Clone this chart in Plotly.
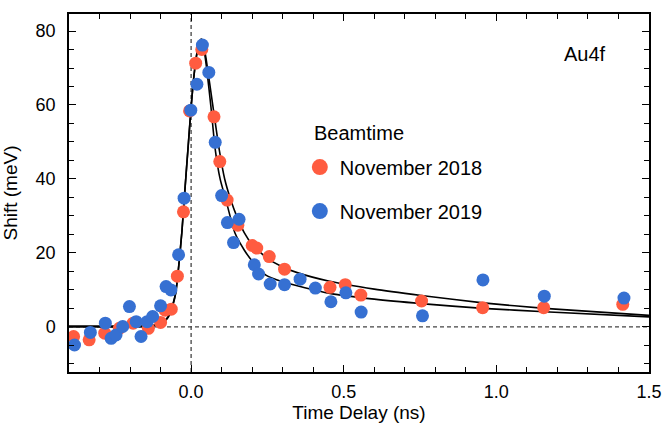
import plotly.graph_objects as go

# ---- data ----
nov2018_x = [-0.385, -0.334, -0.283, -0.235, -0.190, -0.140, -0.100, -0.085, -0.065,
             -0.045, -0.025, -0.005, 0.015, 0.035, 0.075, 0.094, 0.118, 0.153,
             0.200, 0.215, 0.256, 0.306, 0.455, 0.505, 0.556, 0.755, 0.955, 1.155, 1.414]
nov2018_y = [-2.6, -3.5, -1.7, -0.4, 1.0, -0.4, 1.2, 4.5, 4.8,
             13.7, 31.1, 58.4, 71.3, 75.0, 56.8, 44.7, 34.3, 27.5,
             22.0, 21.3, 19.0, 15.6, 10.7, 11.4, 8.6, 7.0, 5.2, 5.2, 6.1]

nov2019_x = [-0.382, -0.330, -0.281, -0.262, -0.246, -0.224, -0.202, -0.180, -0.164,
             -0.144, -0.126, -0.100, -0.082, -0.066, -0.041, -0.023, -0.001, 0.019,
             0.037, 0.058, 0.079, 0.100, 0.119, 0.139, 0.157, 0.207, 0.221, 0.259,
             0.306, 0.357, 0.407, 0.458, 0.507, 0.557, 0.758, 0.956, 1.157, 1.418]
nov2019_y = [-4.9, -1.5, 1.0, -3.1, -2.2, 0.1, 5.5, 1.4, -2.6,
             1.4, 2.8, 5.7, 10.9, 10.0, 19.5, 34.8, 58.6, 65.6,
             76.2, 68.8, 49.9, 35.5, 28.2, 22.8, 29.1, 16.8, 14.3, 11.6,
             11.4, 12.9, 10.5, 6.8, 9.2, 4.0, 3.0, 12.7, 8.3, 7.8]

# fit curves
fit_slow_x = [-0.40, -0.30, -0.20, -0.14, -0.12, -0.10, -0.085, -0.07, -0.06, -0.05, -0.04,
              -0.03, -0.02, -0.01, 0.0, 0.01, 0.02, 0.03, 0.035, 0.04, 0.05, 0.07, 0.092,
              0.11, 0.13, 0.15, 0.174, 0.20, 0.25, 0.30, 0.35, 0.45, 0.60, 0.754, 0.956,
              1.158, 1.50]
fit_slow_y = [0.2, 0.2, 0.2, 0.3, 0.5, 1.0, 1.8, 3.5, 6.0, 9.5, 17.0,
              26.0, 37.5, 48.5, 59.5, 68.5, 74.5, 77.6, 77.8, 76.8, 72.0, 60.5, 48.0,
              40.0, 34.3, 29.8, 25.5, 22.3, 18.5, 16.2, 14.6, 12.4, 10.2, 8.5, 6.5,
              5.0, 3.1]
fit_fast_x = [-0.40, -0.30, -0.20, -0.14, -0.12, -0.10, -0.085, -0.07, -0.06, -0.05, -0.04,
              -0.03, -0.02, -0.01, 0.0, 0.01, 0.02, 0.03, 0.035, 0.04, 0.05, 0.065, 0.079,
              0.095, 0.114, 0.144, 0.174, 0.20, 0.245, 0.30, 0.354, 0.458, 0.60, 0.754,
              0.956, 1.158, 1.50]
fit_fast_y = [0.0, 0.0, 0.0, 0.1, 0.3, 0.8, 1.6, 3.3, 5.8, 9.3, 16.8,
              25.8, 37.3, 48.3, 59.3, 68.3, 74.3, 77.4, 77.5, 76.2, 70.5, 59.5, 48.0,
              40.0, 34.3, 25.3, 20.8, 17.8, 14.0, 12.2, 11.0, 9.0, 7.5, 6.3,
              5.0, 4.1, 2.7]

series_names = ["November 2018", "November 2019"]
series_colors = ["#FF5C40", "#3670D2"]

fig = go.Figure()

# fit lines
for fx, fy in [(fit_slow_x, fit_slow_y), (fit_fast_x, fit_fast_y)]:
    fig.add_trace(go.Scatter(x=fx, y=fy, mode="lines",
                             line=dict(color="black", width=1.6, shape="spline", smoothing=0.6),
                             showlegend=False, hoverinfo="skip"))

# data
for xs, ys, name, col in [(nov2018_x, nov2018_y, series_names[0], series_colors[0]),
                          (nov2019_x, nov2019_y, series_names[1], series_colors[1])]:
    fig.add_trace(go.Scatter(x=xs, y=ys, mode="markers", name=name,
                             marker=dict(color=col, size=13, line=dict(width=0)),
                             showlegend=False))
    fig.add_trace(go.Scatter(x=[None], y=[None], mode="markers", name=name,
                             legendgroup=name,
                             marker=dict(color=col, size=16, line=dict(width=0)),
                             showlegend=True))

fig.add_hline(y=0, line=dict(color="#444444", width=1.3, dash="4px,3px"), layer="below")
fig.add_vline(x=0, line=dict(color="#444444", width=1.3, dash="4px,3px"), layer="below")

fig.add_annotation(x=1.289, y=73.8, text="Au4f", showarrow=False,
                   font=dict(size=20, color="black"), xanchor="center", yanchor="middle")
fig.add_annotation(x=0.397, y=52.4, text="Beamtime", showarrow=False,
                   font=dict(size=20, color="black"), xanchor="left", yanchor="middle")

axis_common = dict(showline=True, linecolor="black", linewidth=1.5, mirror="allticks",
                   ticks="inside", ticklen=7, tickwidth=1.3, tickcolor="black",
                   showgrid=False, zeroline=False,
                   tickfont=dict(size=18, color="black"))

fig.update_xaxes(range=[-0.4, 1.5], tickvals=[0.0, 0.5, 1.0, 1.5],
                 ticktext=["0.0", "0.5", "1.0", "1.5"],
                 minor=dict(dtick=0.1, tick0=0, ticks="inside", ticklen=5, tickwidth=1.2,
                            tickcolor="black"),
                 title=dict(text="Time Delay (ns)", font=dict(size=19, color="black"), standoff=3),
                 automargin=True, ticklabelstandoff=3, **axis_common)
fig.update_yaxes(range=[-12.2, 84.6], tickvals=[0, 20, 40, 60, 80],
                 minor=dict(dtick=5, tick0=0, ticks="inside", ticklen=5, tickwidth=1.2,
                            tickcolor="black"),
                 title=dict(text="Shift (meV)", font=dict(size=19, color="black")),
                 automargin=False, ticklabelstandoff=8, **axis_common)

fig.update_layout(
    width=664, height=423,
    margin=dict(l=69, r=15, t=14, b=51, autoexpand=False),
    paper_bgcolor="white", plot_bgcolor="white",
    font=dict(family="Liberation Sans, Arial, sans-serif", color="black"),
    legend=dict(x=0.398, y=0.627, xanchor="left", yanchor="top",
                bgcolor="rgba(0,0,0,0)", font=dict(size=20, color="black"),
                tracegroupgap=15, itemsizing="trace"),
    showlegend=True,
)

fig.write_html("out.html", config={"displayModeBar": False},
               post_script="document.body.style.margin='0';document.body.style.overflow='hidden';")
